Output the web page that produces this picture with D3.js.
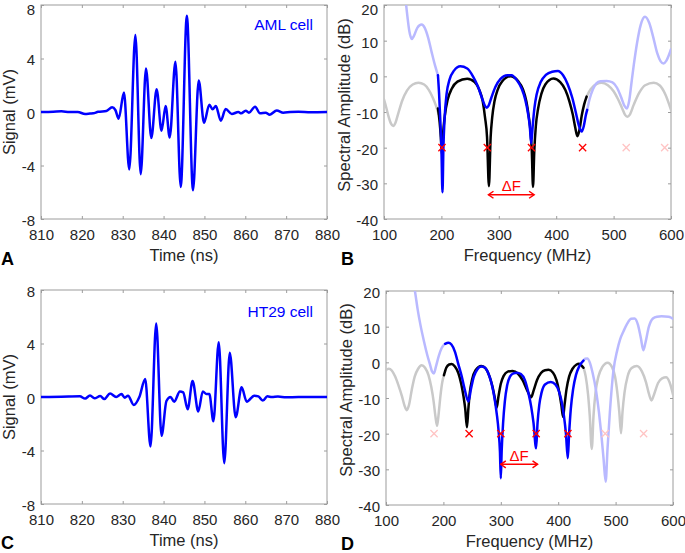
<!DOCTYPE html>
<html><head><meta charset="utf-8">
<script src="https://cdn.jsdelivr.net/npm/d3@7"></script>
<style>body{margin:0;background:#fff}svg{display:block}text{font-family:"Liberation Sans",Arial,Helvetica,sans-serif}</style>
</head><body><svg id="c" width="685" height="553"></svg>
<script>
// ---------- tick labels ----------
const timeTicks = [810, 820, 830, 840, 850, 860, 870, 880];
const signalTicks = [-8, -4, 0, 4, 8];
const freqTicks = [100, 200, 300, 400, 500, 600];
const ampTicks = [-40, -30, -20, -10, 0, 10, 20];

// ---------- panel A: AML cell waveform ----------
const amlTime = [810, 813, 815, 817, 819, 820.8, 822, 822.8, 824, 826, 827.4, 828.2, 829.0, 830.3, 831.6, 833.1, 834.4, 835.7, 837.0, 838.3, 839.5, 840.5, 841.5, 842.9, 844.2, 845.7, 847.2, 848.6, 849.9, 851.2, 852.0, 852.8, 854.0, 855.2, 856.7, 858.3, 859.0, 860.1, 860.9, 862.4, 863.6, 865, 866.0, 867.7, 869.3, 871, 873, 876, 880];
const amlSignal = [0, 0.02, 0.05, 0, 0, -0.15, -0.12, -0.1, 0.02, 0.07, 0.35, 0.15, -0.5, 1.45, -4.3, 5.75, -4.65, 3.25, -1.95, 1.7, -1.4, 0.45, -1.9, 3.75, -5.6, 7.2, -5.85, 2.35, -0.8, 0.55, 0.2, 0.45, -0.65, 0.22, -0.15, 0, -0.1, 0.1, -0.05, 0.4, -0.1, -0.05, -0.2, 0.12, -0.05, 0, 0.02, -0.02, 0];

// ---------- panel C: HT29 cell waveform ----------
const ht29Time = [810, 815, 819.5, 820.8, 822.0, 823.1, 824.5, 825.5, 826.9, 828.4, 829.7, 830.5, 831.3, 832.7, 834.1, 835.5, 836.8, 838.2, 839.5, 840.7, 841.7, 842.6, 844.0, 844.8, 845.9, 847.1, 848.5, 849.6, 850.5, 851.2, 852.2, 853.5, 854.85, 856.2, 857.65, 859.1, 860.35, 862.2, 863.2, 864.3, 865.4, 866.5, 868, 870, 873, 880];
const ht29Signal = [0, 0.02, 0.05, -0.12, 0.12, -0.1, 0.07, -0.15, 0.27, 0.0, 0.22, -0.05, 0.1, -0.6, 0.02, 1.35, -3.7, 5.5, -2.9, -0.3, 0.0, -0.35, 0.42, 0.35, -0.92, 1.2, -1.08, 0.42, 0.22, 0.22, -1.82, 4.1, -4.95, 3.3, -1.52, 0.72, -0.35, 0.1, 0.05, -0.27, 0.05, 0.0, 0.03, -0.02, 0, 0];

// ---------- panel B: AML spectra [MHz, dB] ----------
const amlGrayLeft = [[100,-6.5],[104,-8.8],[108,-11.3],[112,-13.2],[116,-13.9],[120,-13],[125,-10.3],[132,-6.7],[140,-4],[150,-2.3],[160,-1.8],[170,-2.3],[178,-3.8],[185,-6],[190,-8],[195,-10.5]];
const amlGrayRight = [[452,-6],[460,-3.6],[470,-2.2],[479,-1.8],[490,-2.5],[500,-4.2],[508,-6.5],[515,-9],[520,-10.8],[524,-11.3],[528,-10.8],[535,-8],[545,-4.5],[555,-2.5],[570,-1.8],[580,-2.5],[590,-5],[600,-9.4]];
const amlBlack = [[194,-9],[197,-13],[199,-17],[201,-22],[203,-16],[206,-11],[211,-6.5],[218,-3.5],[228,-1.5],[245,-0.65],[258,-1.6],[266,-3.8],[272,-7],[276,-11.5],[279.5,-17],[282.8,-30.8],[285.8,-17],[288.5,-11.5],[292.5,-7],[298,-3.8],[306,-1.4],[320,0],[334,-1.4],[342,-3.6],[348,-7],[352,-11],[355,-15],[357.5,-21],[359.6,-31],[361.8,-21],[364.5,-14],[368.5,-9],[374,-5],[381,-2.3],[395,-0.6],[407,-1.6],[416,-3.8],[423,-7],[429,-10.8],[433,-14.2],[437,-16.8],[440.5,-15],[444.5,-11],[448.5,-8],[453,-5.7]];
const amlBlue = [[194,0.3],[196,-5],[198,-12],[200,-20],[201.9,-32.5],[203.5,-20],[205.5,-12],[209,-5],[214,-1],[222,1.6],[233,2.8],[245,2.2],[255,0],[264,-3],[271,-6.2],[276,-8.3],[279,-8.8],[282,-8.3],[287,-6],[294,-3],[303,-0.7],[315,0.3],[322,0.3],[332,-1.2],[340,-3.5],[346,-6.5],[351,-10.5],[354,-14],[356.5,-18.8],[359,-14],[362,-9],[366,-5],[373,-1.6],[382,0.4],[393,1.3],[403,1.5],[412,0.3],[420,-2.2],[428,-6],[434,-10],[439.5,-13.8],[444.4,-15.5],[448,-14],[451.5,-11],[454,-9.4]];
const amlBlueLightLeft = [[136,25],[138.3,20.5],[141,16.5],[144,12.8],[148.5,10.5],[152,11.3],[158,13.6],[165.5,14.5],[171,13.6],[177,10.8],[183,6.8],[189,3],[194,0.3]];
const amlBlueLightRight = [[454,-9.4],[458,-6.5],[464,-3.6],[470,-2],[477,-1.4],[488,-1.3],[498,-1.7],[506,-3.2],[513,-5.8],[519,-8.3],[523,-9],[527,-7],[531,-2],[535,3],[541,9.5],[547,14.3],[554.7,16.7],[562,15],[569,11],[576,6.5],[582,4.2],[587,3.6],[592,4.4],[600,7.6]];
const amlMarkersBright = [201, 280, 357, 446];
const amlMarkersFaded = [522, 589];
const amlMarkerLevel = -20;
const amlDeltaF = [282, 361.5, -33.2];

// ---------- panel D: HT29 spectra [MHz, dB] ----------
const htGrayLeft = [[100,-2.1],[105,-1.8],[110,-2.3],[116,-4],[122,-6.6],[128,-9.6],[132,-12],[136,-13.4],[140,-12],[145,-7.6],[150,-4],[156,-1.8],[162,-0.8],[168,-1.5],[174,-3.6],[179,-7],[183,-11],[186,-15],[189,-17.8],[192,-14],[195,-9.2],[198,-5.6],[201,-3.6]];
const htGrayRight = [[444,-1.5],[448,-4],[452,-9],[455,-15],[458.5,-24.3],[461.5,-15],[465,-8.5],[470,-4],[477,-1.3],[486,-0.1],[494,-1.4],[499,-4],[503,-8.5],[506.5,-14],[509.5,-19.9],[512,-14],[515.5,-8.5],[521,-3.9],[528,-1.6],[537,-1.0],[546,-2.6],[553,-5.6],[558,-8.8],[562.5,-10.7],[567,-9],[574,-5.8],[581,-4.5],[588,-4.2],[594,-5.6],[600,-9]];
const htBlack = [[201,-3.6],[205,-1.5],[210,-0.6],[214.5,-0.45],[220,-1.2],[226,-3],[231,-6],[235,-9.5],[238,-13],[241,-18.2],[243.5,-13],[246,-8.5],[250,-4.8],[256,-2.2],[266,-1],[274,-1.8],[280,-3.8],[285,-6.5],[289,-9.5],[292.8,-12.7],[296,-9.5],[300,-6],[305,-3.8],[312,-2.6],[320.5,-2.4],[330,-3.2],[338,-5],[345,-7.5],[353,-9.8],[357,-8],[363,-5],[370,-3],[377,-2.2],[383,-2.1],[391,-2.9],[397,-5],[402,-8.5],[405.5,-12],[408.5,-15.3],[411,-12],[414.5,-7.5],[419,-4],[425,-1.8],[432,-0.6],[436,-0.4],[440,-0.8],[444,-1.5]];
const htBlue = [[203,5.2],[208.7,5.5],[214,5],[220,3],[226,-0.5],[232,-4],[237,-7.5],[243.6,-11],[248,-7.5],[253,-4],[259,-2],[266,-1.2],[272,-1.4],[278,-3],[284,-6],[289,-10],[293,-14.5],[296,-19],[298.5,-25],[300,-32.5],[301.5,-25],[304,-17],[307,-11],[311,-6.5],[316,-4],[322,-3.1],[328,-2.9],[335,-3.3],[342,-5],[348,-8.5],[353,-12.5],[357,-17],[361.5,-24.1],[364,-17],[367,-12],[371,-8.5],[377,-6.2],[387,-5.5],[395,-6.2],[401,-8],[406,-11],[410,-15],[413.5,-20],[416.7,-26.9],[419,-20],[422,-13],[426,-7.5],[431,-3.5],[437,-1],[444,0.5]];
const htBlueLightLeft = [[146,24],[150.6,19.8],[155,15],[160,10.5],[166,6],[172,2],[177,-0.8],[180,-2.5],[183.5,-3.1],[187,-1.2],[192,1.8],[197,4],[203,5.2]];
const htBlueLightRight = [[444,0.5],[447,1],[450.7,1.1],[455,0],[460,-3],[466,-8],[471,-14],[475,-20],[479,-27],[482.7,-33.5],[486,-24],[490,-14],[496,-2.6],[503,3.5],[508,6.5],[514,8.8],[520,10.8],[527,12.2],[533,12.3],[539,10.5],[544,6.8],[548.3,3.4],[552,5.5],[558,10],[565,12.3],[572,12.8],[580,12.9],[592,12.8],[597,12.5],[600,12.2]];
const htMarkersBright = [244.8, 300, 361.6, 416.9];
const htMarkersFaded = [183.7, 482, 548.8];
const htMarkerLevel = -20;
const htDeltaF = [300, 364, -28.6];

// ---------- drawing ----------
const svg = d3.select("#c");
const BOX = "#9c9c9c", TXT = "#262626";
const BLUE = "#0000ff", LBLUE = "#b9b9ff", GRAY = "#c9c9c9", RED = "#ff0000", LRED = "#ffc4c4";

function panel(o) {
  const x = d3.scaleLinear().domain(o.xDom).range([o.l, o.r]);
  const y = d3.scaleLinear().domain(o.yDom).range([o.b, o.t]);
  const g = svg.append("g");
  const id = "clip" + o.letter;
  svg.append("clipPath").attr("id", id).append("rect")
    .attr("x", o.l).attr("y", o.t).attr("width", o.r - o.l).attr("height", o.b - o.t);

  const styleAxis = sel => {
    sel.select(".domain").remove();
    sel.selectAll("line").attr("stroke", BOX);
    sel.selectAll("text").attr("fill", TXT).attr("font-size", 15);
  };
  const yMax = o.yDom[1];
  g.append("g").attr("transform", `translate(0,${o.b})`)
    .call(d3.axisBottom(x).tickValues(o.xTicks).tickSizeInner(-3).tickSizeOuter(0).tickPadding(10).tickFormat(d3.format("d")))
    .call(styleAxis);
  g.append("g").attr("transform", `translate(0,${o.t})`)
    .call(d3.axisTop(x).tickValues(o.xTicks).tickSizeInner(-3).tickSizeOuter(0).tickFormat(""))
    .call(styleAxis);
  g.append("g").attr("transform", `translate(${o.l},0)`)
    .call(d3.axisLeft(y).tickValues(o.yTicks).tickSizeInner(-3).tickSizeOuter(0).tickPadding(6).tickFormat(d => d < 0 ? "-" + Math.abs(d) : d))
    .call(styleAxis)
    .call(s => s.selectAll("text").attr("dy", d => (d === yMax && o.t < 10) ? "0.62em" : "0.43em"));
  g.append("g").attr("transform", `translate(${o.r},0)`)
    .call(d3.axisRight(y).tickValues(o.yTicks).tickSizeInner(-3).tickSizeOuter(0).tickFormat(""))
    .call(styleAxis);
  g.append("rect").attr("x", o.l).attr("y", o.t).attr("width", o.r - o.l).attr("height", o.b - o.t)
    .attr("fill", "none").attr("stroke", BOX).attr("stroke-width", 1);

  g.append("text").attr("x", (o.l + o.r) / 2).attr("y", o.b + 42).attr("text-anchor", "middle")
    .attr("font-size", 16.5).attr("fill", TXT).text(o.xTitle);
  g.append("text").attr("transform", `translate(${o.ytx},${o.yty}) rotate(-90)`).attr("text-anchor", "middle")
    .attr("font-size", 16.5).attr("fill", TXT).text(o.yTitle);
  g.append("text").attr("x", o.lx).attr("y", o.ly).attr("font-size", 18).attr("font-weight", "bold")
    .attr("fill", "#000").text(o.letter);

  const plot = svg.append("g").attr("clip-path", `url(#${id})`);
  return { x, y, plot };
}

function drawLine(p, pts, color, w) {
  const line = d3.line().x(d => p.x(d[0])).y(d => p.y(d[1])).curve(d3.curveMonotoneX);
  p.plot.append("path").attr("d", line(pts)).attr("fill", "none").attr("stroke", color)
    .attr("stroke-width", w).attr("stroke-linejoin", "round").attr("stroke-linecap", "round");
}
function drawMarkers(p, xs, level, color) {
  const s = 3.6;
  xs.forEach(f => {
    const cx = p.x(f), cy = p.y(level);
    p.plot.append("path").attr("d", `M${cx - s},${cy - s}L${cx + s},${cy + s}M${cx - s},${cy + s}L${cx + s},${cy - s}`)
      .attr("stroke", color).attr("stroke-width", 1.3).attr("fill", "none");
  });
}
function drawDeltaF(p, df) {
  const x1 = p.x(df[0]), x2 = p.x(df[1]), yy = p.y(df[2]);
  const g = p.plot.append("g").attr("stroke", RED).attr("stroke-width", 1.5).attr("fill", "none");
  g.append("path").attr("d", `M${x1},${yy}L${x2},${yy}`);
  g.append("path").attr("d", `M${x1 + 5},${yy - 3.5}L${x1},${yy}L${x1 + 5},${yy + 3.5}`);
  g.append("path").attr("d", `M${x2 - 5},${yy - 3.5}L${x2},${yy}L${x2 - 5},${yy + 3.5}`);
  p.plot.append("text").attr("x", (x1 + x2) / 2).attr("y", yy - 3.5).attr("text-anchor", "middle")
    .attr("font-size", 15).attr("fill", RED).text("\u0394F");
}

// Panel A
const pA = panel({ l: 41, r: 327, t: 5, b: 219, xDom: [810, 880], yDom: [-8, 8], xTicks: timeTicks, yTicks: signalTicks,
  xTitle: "Time (ns)", yTitle: "Signal (mV)", ytx: 15, yty: 112, letter: "A", lx: 1, ly: 265 });
drawLine(pA, amlTime.map((t, i) => [t, amlSignal[i]]), BLUE, 2.5);
svg.append("text").attr("x", 313).attr("y", 29.5).attr("text-anchor", "end").attr("font-size", 15.5)
  .attr("fill", BLUE).text("AML cell");

// Panel C
const pC = panel({ l: 41, r: 327, t: 290, b: 504, xDom: [810, 880], yDom: [-8, 8], xTicks: timeTicks, yTicks: signalTicks,
  xTitle: "Time (ns)", yTitle: "Signal (mV)", ytx: 15, yty: 397, letter: "C", lx: 1, ly: 549 });
drawLine(pC, ht29Time.map((t, i) => [t, ht29Signal[i]]), BLUE, 2.5);
svg.append("text").attr("x", 313).attr("y", 316.5).attr("text-anchor", "end").attr("font-size", 15.5)
  .attr("fill", BLUE).text("HT29 cell");

// Panel B
const pB = panel({ l: 384, r: 671, t: 5, b: 219, xDom: [100, 600], yDom: [-40, 20], xTicks: freqTicks, yTicks: ampTicks,
  xTitle: "Frequency (MHz)", yTitle: "Spectral Amplitude (dB)", ytx: 350, yty: 105, letter: "B", lx: 341, ly: 265 });
drawLine(pB, amlGrayLeft, GRAY, 2.5);
drawLine(pB, amlGrayRight, GRAY, 2.5);
drawLine(pB, amlBlueLightLeft, LBLUE, 2.5);
drawLine(pB, amlBlueLightRight, LBLUE, 2.5);
drawLine(pB, amlBlack, "#000", 2.5);
drawLine(pB, amlBlue, BLUE, 2.5);
drawMarkers(pB, amlMarkersFaded, amlMarkerLevel, LRED);
drawMarkers(pB, amlMarkersBright, amlMarkerLevel, RED);
drawDeltaF(pB, amlDeltaF);

// Panel D
const pD = panel({ l: 386, r: 673, t: 291, b: 505, xDom: [100, 600], yDom: [-40, 20], xTicks: freqTicks, yTicks: ampTicks,
  xTitle: "Frequency (MHz)", yTitle: "Spectral Amplitude (dB)", ytx: 352, yty: 390, letter: "D", lx: 341, ly: 550 });
drawLine(pD, htGrayLeft, GRAY, 2.5);
drawLine(pD, htGrayRight, GRAY, 2.5);
drawLine(pD, htBlueLightLeft, LBLUE, 2.5);
drawLine(pD, htBlueLightRight, LBLUE, 2.5);
drawLine(pD, htBlack, "#000", 2.5);
drawLine(pD, htBlue, BLUE, 2.5);
drawMarkers(pD, htMarkersFaded, htMarkerLevel, LRED);
drawMarkers(pD, htMarkersBright, htMarkerLevel, RED);
drawDeltaF(pD, htDeltaF);
</script></body></html>
